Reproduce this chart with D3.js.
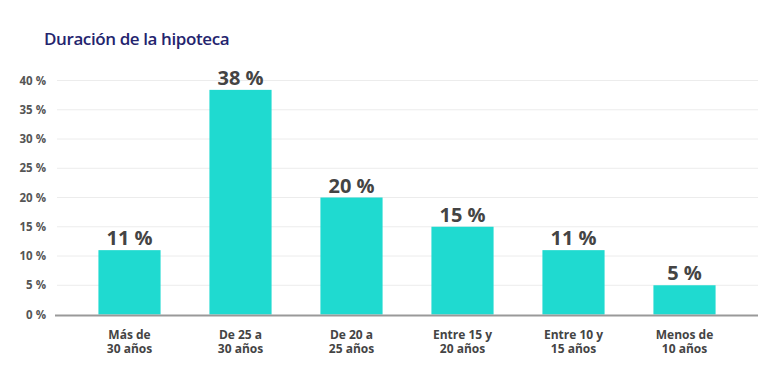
<!DOCTYPE html>
<html>
<head>
<meta charset="utf-8">
<script src="https://cdn.jsdelivr.net/npm/d3@7"></script>
<style>
  body { margin: 0; background: #fff; }
  text { font-family: "Open Sans", sans-serif; }
</style>
</head>
<body>
<script>
// chart data
var categories = [["Más de", "30 años"], ["De 25 a", "30 años"], ["De 20 a", "25 años"],
                  ["Entre 15 y", "20 años"], ["Entre 10 y", "15 años"], ["Menos de", "10 años"]]
var values = [11, 38.4, 20, 15, 11, 5]
var yTicks = [0, 5, 10, 15, 20, 25, 30, 35, 40]

var width = 768, height = 372

var svg = d3.select("body").append("svg")
    .attr("width", width)
    .attr("height", height)

svg.append("text")
    .attr("x", 44)
    .attr("y", 45)
    .style("font-size", "17px")
    .style("font-weight", 600)
    .style("fill", "#24246e")
    .style("letter-spacing", "-0.4px")
    .text("Duración de la hipoteca")

var x = d3.scaleBand()
    .domain(d3.range(categories.length))
    .range([74, 740])
    .paddingInner(0.44)
    .paddingOuter(0.22)

var y = d3.scaleLinear()
    .domain([0, 40])
    .range([314.5, 80.5])

// gridlines
svg.append("g")
    .selectAll("line")
    .data(yTicks.filter(function(d){ return d > 0 }))
    .enter().append("line")
    .attr("x1", 57).attr("x2", 758)
    .attr("y1", function(d){ return y(d) }).attr("y2", function(d){ return y(d) })
    .style("stroke", "#ececec")
    .style("stroke-width", 1)

// y axis labels
var yAxis = d3.axisLeft(y).tickValues(yTicks).tickSize(0).tickPadding(0)
    .tickFormat(function(d){ return d + " %" })
var gy = svg.append("g").attr("transform", "translate(46,0)").call(yAxis)
gy.select(".domain").remove()
gy.selectAll("text")
    .style("font-family", "'Open Sans', sans-serif")
    .style("font-size", "11.5px")
    .style("font-weight", 700)
    .style("fill", "#555")

// bars
svg.append("g")
    .selectAll("rect")
    .data(values)
    .enter().append("rect")
    .attr("x", function(d, i){ return x(i) })
    .attr("width", x.bandwidth())
    .attr("y", function(d){ return y(d) })
    .attr("height", function(d){ return y(0) - y(d) })
    .style("fill", "#1fdad0")

// value labels
svg.append("g")
    .selectAll("text")
    .data(values)
    .enter().append("text")
    .attr("x", function(d, i){ return x(i) + x.bandwidth() / 2 })
    .attr("y", function(d){ return y(d) - 5 })
    .attr("text-anchor", "middle")
    .style("font-size", "20px")
    .style("font-weight", 700)
    .style("fill", "#444")
    .text(function(d){ return Math.round(d) + " %" })

// baseline
svg.append("line")
    .attr("x1", 55).attr("x2", 758)
    .attr("y1", y(0) + 1).attr("y2", y(0) + 1)
    .style("stroke", "#999")
    .style("stroke-width", 2)

// category labels
var xAxis = d3.axisBottom(x).tickSize(0).tickFormat("")
var gx = svg.append("g").attr("transform", "translate(0," + (y(0) + 2) + ")").call(xAxis)
gx.select(".domain").remove()
gx.selectAll(".tick").each(function(i){
    var t = d3.select(this).append("text")
        .attr("text-anchor", "middle")
        .style("font-size", "12px")
        .style("font-weight", 700)
        .style("fill", "#444")
    categories[i].forEach(function(line, k){
        t.append("tspan").attr("x", 0).attr("y", 22 + k * 14).text(line)
    })
})
</script>
</body>
</html>
